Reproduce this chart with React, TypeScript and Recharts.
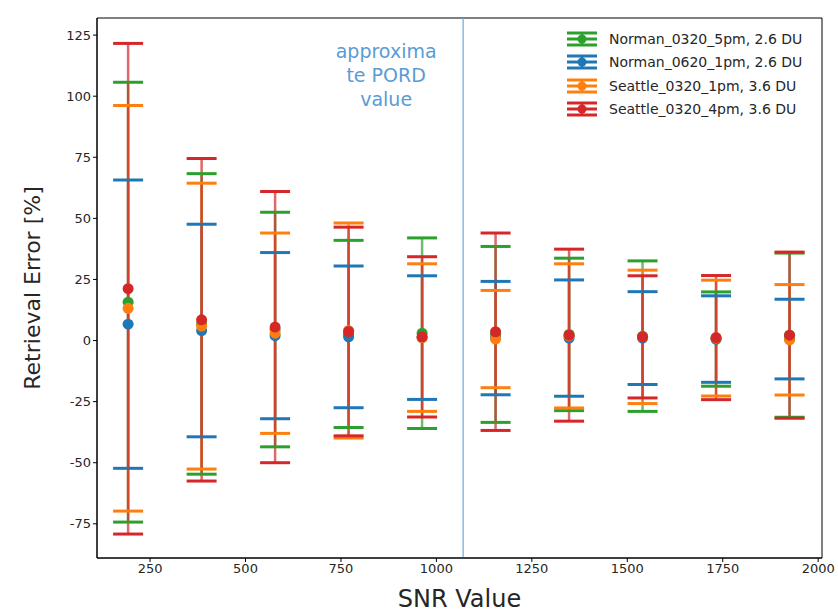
import { ScatterChart, Scatter, XAxis, YAxis, ErrorBar, ReferenceLine, ReferenceArea, Label } from "recharts";

const snr = [192.5, 385, 577.5, 770, 962.5, 1155, 1347.5, 1540, 1732.5, 1925];
const xTicks = [250, 500, 750, 1000, 1250, 1500, 1750, 2000];
const yTicks = [-75, -50, -25, 0, 25, 50, 75, 100, 125];
const pordSnr = 1070;

const seriesNames = [
  "Norman_0320_5pm, 2.6 DU",
  "Norman_0620_1pm, 2.6 DU",
  "Seattle_0320_1pm, 3.6 DU",
  "Seattle_0320_4pm, 3.6 DU",
];
const seriesColors = ["#2ca02c", "#1f77b4", "#ff7f0e", "#d62728"];

// mean retrieval error and symmetric error half-width per SNR
const norman0320Mean = [15.7, 6.8, 4.5, 2.7, 3.0, 2.5, 2.5, 1.8, 0.6, 2.2];
const norman0320Err = [90, 61.5, 48, 38.3, 39, 36, 31.2, 30.8, 19.3, 33.6];
const norman0620Mean = [6.7, 4.1, 2.0, 1.5, 1.2, 1.0, 1.0, 1.0, 0.6, 0.6];
const norman0620Err = [59, 43.5, 34, 29, 25.3, 23.2, 23.8, 19, 17.7, 16.3];
const seattle1pmMean = [13.2, 5.9, 3.0, 4.1, 1.2, 0.6, 1.9, 1.5, 1.0, 0.3];
const seattle1pmErr = [83, 58.5, 41, 44, 30.2, 19.9, 29.5, 27.3, 23.7, 22.6];
const seattle4pmMean = [21.2, 8.5, 5.5, 3.7, 1.5, 3.6, 2.2, 1.5, 1.2, 2.2];
const seattle4pmErr = [100.4, 66, 55.5, 42.7, 32.8, 40.4, 35.2, 25, 25.4, 34];

const means = [norman0320Mean, norman0620Mean, seattle1pmMean, seattle4pmMean];
const errs = [norman0320Err, norman0620Err, seattle1pmErr, seattle4pmErr];

const FONT = "DejaVu Sans";
const xDomain = [111, 2010];
const yDomain = [-89, 132];

const series = seriesNames.map((name, s) => ({
  name,
  color: seriesColors[s],
  points: snr.map((x, i) => ({ x, y: means[s][i], err: errs[s][i] })),
  caps: snr.flatMap((x, i) => [
    { x, y: means[s][i] + errs[s][i] },
    { x, y: means[s][i] - errs[s][i] },
  ]),
}));

function capShape(color: string) {
  return (p: any) => (
    <line x1={p.cx - 15} x2={p.cx + 15} y1={p.cy} y2={p.cy} stroke={color} strokeWidth={3} />
  );
}

function dotShape(color: string) {
  return (p: any) => <circle cx={p.cx} cy={p.cy} r={5.5} fill={color} />;
}

function PordLabel(props: any) {
  const vb = props.viewBox || {};
  const cx = vb.x - 77;
  const lines = ["approxima", "te PORD", "value"];
  return (
    <g>
      {lines.map((t, i) => (
        <text key={t} x={cx} y={vb.y + 40 + i * 24} textAnchor="middle" fill="#5b9bd5" fontSize={19} fontFamily={FONT}>
          {t}
        </text>
      ))}
    </g>
  );
}

function LegendIcon({ color }: { color: string }) {
  return (
    <svg width={34} height={18} style={{ display: "block" }}>
      <line x1={2} x2={32} y1={3} y2={3} stroke={color} strokeWidth={3} />
      <line x1={2} x2={32} y1={9} y2={9} stroke={color} strokeWidth={3} />
      <line x1={2} x2={32} y1={15} y2={15} stroke={color} strokeWidth={3} />
      <line x1={17} x2={17} y1={3} y2={15} stroke={color} strokeWidth={2.5} />
      <circle cx={17} cy={9} r={4.5} fill={color} />
    </svg>
  );
}

export default function App() {
  return (
    <div style={{ position: "absolute", left: 0, top: 0, width: 838, height: 613, background: "#fff" }}>
      <ScatterChart width={838} height={613} margin={{ top: 18, right: 16, bottom: 0, left: 0 }}>
        <XAxis
          type="number"
          dataKey="x"
          domain={xDomain}
          ticks={xTicks}
          allowDataOverflow
          height={55}
          stroke="#000"
          tickSize={4}
          tick={{ fill: "#262626", fontSize: 13, fontFamily: FONT }}
        >
          <Label value="SNR Value" position="insideBottom" offset={6} fill="#262626" fontSize={24} fontFamily={FONT} />
        </XAxis>
        <YAxis
          type="number"
          dataKey="y"
          domain={yDomain}
          ticks={yTicks}
          allowDataOverflow
          width={97}
          stroke="#000"
          tickSize={4}
          tick={{ fill: "#262626", fontSize: 13, fontFamily: FONT }}
        >
          <Label value="Retrieval Error [%]" angle={-90} position="insideLeft" offset={32} style={{ textAnchor: "middle" }} fill="#262626" fontSize={22} fontFamily={FONT} />
        </YAxis>
        <ReferenceArea x1={xDomain[0]} x2={xDomain[1]} y1={yDomain[0]} y2={yDomain[1]} fill="none" fillOpacity={0} stroke="#000" strokeWidth={1} strokeOpacity={1} />
        <ReferenceLine x={pordSnr} stroke="#6fa8dc" strokeWidth={1.2} label={<PordLabel />} />
        {series.map((s) => [
          <Scatter
            key={s.name + "-caps"}
            data={s.caps}
            shape={capShape(s.color)}
            isAnimationActive={false}
          />,
          <Scatter
            key={s.name + "-pts"}
            name={s.name}
            data={s.points}
            shape={dotShape(s.color)}
            isAnimationActive={false}
          >
            <ErrorBar dataKey="err" direction="y" width={0} stroke={s.color} strokeWidth={2.5} strokeOpacity={0.7} />
          </Scatter>,
        ])}
      </ScatterChart>
      <div style={{ position: "absolute", left: 565, top: 27, fontFamily: FONT, fontSize: 14, color: "#262626" }}>
        {series.map((s) => (
          <div key={s.name} style={{ display: "flex", alignItems: "center", height: 23.5 }}>
            <LegendIcon color={s.color} />
            <span style={{ marginLeft: 10 }}>{s.name}</span>
          </div>
        ))}
      </div>
    </div>
  );
}
